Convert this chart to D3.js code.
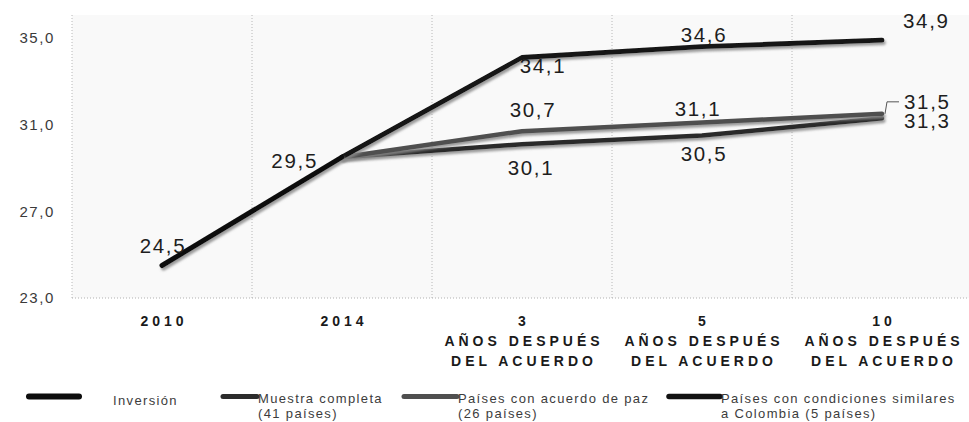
<!DOCTYPE html>
<html>
<head>
<meta charset="utf-8">
<script src="https://cdn.jsdelivr.net/npm/d3@7/dist/d3.min.js"></script>
<style>
  html, body { margin: 0; padding: 0; background: #ffffff; }
  svg { display: block; font-family: "Liberation Sans", Arial, sans-serif; }
</style>
</head>
<body>
<svg id="chart" width="969" height="422"></svg>
<script>
// ---- data ----
const categories = ["2010", "2014", "3 años después del acuerdo", "5 años después del acuerdo", "10 años después del acuerdo"];
const tickLines = [["2010"], ["2014"], ["3", "AÑOS DESPUÉS", "DEL ACUERDO"], ["5", "AÑOS DESPUÉS", "DEL ACUERDO"], ["10", "AÑOS DESPUÉS", "DEL ACUERDO"]];
const yTicks = [23, 27, 31, 35];
const inversion = [24.5, 29.5, null, null, null];
const muestraCompleta = [null, 29.5, 30.1, 30.5, 31.3];
const acuerdoPaz = [null, 29.5, 30.7, 31.1, 31.5];
const similaresColombia = [null, 29.5, 34.1, 34.6, 34.9];
const seriesNames = ["Inversión", "Muestra completa (41 países)", "Países con acuerdo de paz (26 países)", "Países con condiciones similares a Colombia (5 países)"];

// ---- layout / styles ----
const svg = d3.select("#chart");
const plotLeft = 72, plotRight = 972, plotTop = 15, plotBottom = 298;
const x = d3.scaleBand().domain(categories).range([plotLeft, plotRight]);
const y = d3.scaleLinear().domain([23, 35]).range([plotBottom, 38]);
const cx = i => x(categories[i]) + x.bandwidth() / 2;
const fmt = v => d3.format(".1f")(v).replace(".", ",");

const defs = svg.append("defs");
const f = defs.append("filter").attr("id", "shadow").attr("x", "-10%").attr("y", "-30%").attr("width", "120%").attr("height", "160%");
f.append("feDropShadow").attr("dx", 1.5).attr("dy", 2.5).attr("stdDeviation", 1.3)
  .attr("flood-color", "#8a8a8a").attr("flood-opacity", 0.85);

// plot background
svg.append("rect").attr("x", plotLeft).attr("y", plotTop)
  .attr("width", 969 - plotLeft).attr("height", plotBottom - plotTop).attr("fill", "#f9f9f9");

// vertical dotted gridlines at band boundaries
const bounds = categories.map(c => x(c));
svg.append("g").selectAll("line").data(bounds).join("line")
  .attr("x1", d => d).attr("x2", d => d).attr("y1", plotTop).attr("y2", plotBottom)
  .attr("stroke", "#b8b8b8").attr("stroke-width", 1).attr("stroke-dasharray", "1,2");
svg.append("line").attr("x1", plotLeft).attr("x2", 969).attr("y1", plotBottom).attr("y2", plotBottom)
  .attr("stroke", "#b0b0b0").attr("stroke-width", 1).attr("stroke-dasharray", "1,2");

// y axis
const yAxis = svg.append("g").attr("transform", `translate(${plotLeft - 17},0)`)
  .call(d3.axisLeft(y).tickValues(yTicks).tickFormat(fmt).tickSize(0).tickPadding(0));
yAxis.select(".domain").remove();
yAxis.selectAll("text").attr("font-size", 15).attr("fill", "#3a3a3a")
  .attr("letter-spacing", "1.6px").attr("font-family", "Liberation Sans, Arial, sans-serif");

// x axis (multi-line labels)
const xAxis = svg.append("g").attr("transform", `translate(0,${plotBottom})`)
  .call(d3.axisBottom(x).tickSize(0).tickFormat(""));
xAxis.select(".domain").remove();
xAxis.selectAll(".tick").each(function(d, i) {
  const t = d3.select(this).append("text").attr("fill", "#1a1a1a").attr("font-size", 14)
    .attr("font-weight", "bold").attr("letter-spacing", "4px").attr("text-anchor", "middle")
    .attr("font-family", "Liberation Sans, Arial, sans-serif");
  tickLines[i].forEach((ln, k) => {
    t.append("tspan").attr("x", 2).attr("y", 28 + k * 20).text(ln);
  });
});

// lines
const line = d3.line().defined(d => d.v != null).x(d => cx(d.i)).y(d => y(d.v));
const seriesData = [
  { vals: muestraCompleta, color: "#2c2c2c", w: 4.5 },
  { vals: acuerdoPaz, color: "#4f4f4f", w: 4.5 },
  { vals: similaresColombia, color: "#121212", w: 4.8 },
  { vals: inversion, color: "#0d0d0d", w: 5 }
];
const lg = svg.append("g");
seriesData.forEach(s => {
  lg.append("path").datum(s.vals.map((v, i) => ({ v, i })))
    .attr("d", line).attr("fill", "none").attr("stroke", s.color).attr("stroke-width", s.w)
    .attr("stroke-linejoin", "round").attr("stroke-linecap", "round").attr("filter", "url(#shadow)");
});

// data labels
const labelStyle = sel => sel.attr("font-size", 20.5).attr("fill", "#1e1e1e").attr("letter-spacing", "1.7px")
  .attr("font-family", "Liberation Sans, Arial, sans-serif");
const labels = [
  { s: inversion, i: 0, dx: 1, dy: -13, a: "middle" },
  { s: inversion, i: 1, dx: -24, dy: 11, a: "end" },
  { s: similaresColombia, i: 2, dx: 21, dy: 15, a: "middle" },
  { s: acuerdoPaz, i: 2, dx: 11, dy: -14, a: "middle" },
  { s: muestraCompleta, i: 2, dx: 9, dy: 31, a: "middle" },
  { s: similaresColombia, i: 3, dx: 2, dy: -5, a: "middle" },
  { s: acuerdoPaz, i: 3, dx: -4, dy: -7, a: "middle" },
  { s: muestraCompleta, i: 3, dx: 2, dy: 25, a: "middle" },
  { s: similaresColombia, i: 4, dx: 21, dy: -12, a: "start" },
  { s: acuerdoPaz, i: 4, dx: 22, dy: -5, a: "start" },
  { s: muestraCompleta, i: 4, dx: 22, dy: 10, a: "start" }
];
svg.append("g").selectAll("text").data(labels).join("text")
  .attr("x", d => cx(d.i) + d.dx).attr("y", d => y(d.s[d.i]) + d.dy)
  .attr("text-anchor", d => d.a).text(d => fmt(d.s[d.i])).call(labelStyle);

// leader for 31,5
const lx = cx(4), ly = y(acuerdoPaz[4]);
svg.append("path").attr("d", `M${lx + 3},${ly} L${lx + 5},${ly - 12} L${lx + 17},${ly - 12}`)
  .attr("fill", "none").attr("stroke", "#555").attr("stroke-width", 1);

// legend
const legendItems = [
  { name: seriesNames[0], lines: ["Inversión"], sx: 29, ex: 79, tx: 113, ty: 405, color: "#0d0d0d", w: 6 },
  { name: seriesNames[1], lines: ["Muestra completa", "(41 países)"], sx: 223, ex: 257, tx: 258, ty: 403, color: "#2c2c2c", w: 5 },
  { name: seriesNames[2], lines: ["Países con acuerdo de paz", "(26 países)"], sx: 404, ex: 457, tx: 458, ty: 403, color: "#4f4f4f", w: 5 },
  { name: seriesNames[3], lines: ["Países con condiciones similares", "a Colombia (5 países)"], sx: 669, ex: 720, tx: 721, ty: 403, color: "#121212", w: 5.5 }
];
const leg = svg.append("g");
legendItems.forEach((it, k) => {
  leg.append("line").attr("x1", it.sx).attr("x2", it.ex).attr("y1", 396.5).attr("y2", 396.5)
    .attr("stroke", it.color).attr("stroke-width", it.w).attr("stroke-linecap", "round");
  const t = leg.append("text").attr("font-size", 13).attr("fill", "#3c3c3c").attr("letter-spacing", "1.35px")
    .attr("font-family", "Liberation Sans, Arial, sans-serif");
  it.lines.forEach((ln, j) => {
    t.append("tspan").attr("x", it.tx).attr("y", it.ty + j * 14.5).text(ln);
  });
});
</script>
</body>
</html>
